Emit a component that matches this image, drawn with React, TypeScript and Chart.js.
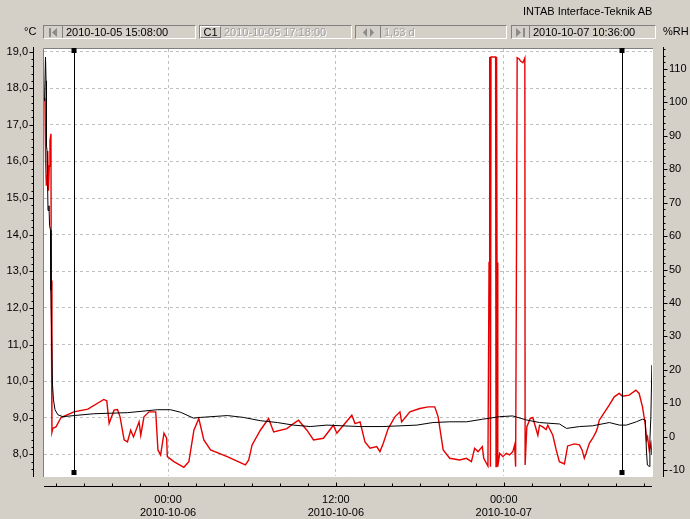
import React, { useEffect, useRef } from 'react';
import { Chart, registerables } from 'chart.js';

Chart.register(...registerables);

// Time axis: hours relative to 2010-10-06 00:00
const X_MIN = -8.867; // 2010-10-05 15:08:00
const X_MAX = 34.6; // 2010-10-07 10:36:00
const xTickHours = [0, 12, 24];
const xTickLabels = [
  ['00:00', '2010-10-06'],
  ['12:00', '2010-10-06'],
  ['00:00', '2010-10-07'],
];
const tempTicks = [8, 9, 10, 11, 12, 13, 14, 15, 16, 17, 18, 19];
const rhTicks = [-10, 0, 10, 20, 30, 40, 50, 60, 70, 80, 90, 100, 110];
const TEMP_MIN = 7.41;
const TEMP_MAX = 19.07;
const RH_MIN = -11.8;
const RH_MAX = 116;
const cursorHours = [-6.7, 32.42];

// Temperature (°C), black
const tempHours = [-8.83, -8.76, -8.72, -8.69, -8.65, -8.58, -8.51, -8.47, -8.4, -8.37, -8.32, -8.26, -8.19, -8.08, -7.87, -7.51, -6.73, -5.3, -2.88, -0.74, 0.18, 0.9, 1.82, 2.32, 4.25, 5.39, 6.6, 7.82, 8.96, 10.16, 11.36, 12.5, 13.72, 15.36, 16.58, 17.79, 18.94, 20.13, 21.34, 22.48, 23.71, 24.64, 25.63, 26.56, 27.99, 28.49, 29.42, 30.34, 31.55, 32.27, 32.77, 33.48, 33.91, 34.12, 34.2, 34.27, 34.41, 34.45, 34.52, 34.59];
const tempValues = [17.65, 18.85, 18.2, 16.43, 16.29, 14.66, 14.79, 14.25, 14.12, 12.48, 11.2, 9.9, 9.49, 9.22, 9.08, 9.03, 9.06, 9.11, 9.14, 9.22, 9.22, 9.15, 8.99, 9.01, 9.06, 9.01, 8.92, 8.87, 8.8, 8.76, 8.8, 8.78, 8.76, 8.76, 8.78, 8.8, 8.87, 8.89, 8.89, 8.96, 9.03, 9.05, 8.94, 8.87, 8.83, 8.71, 8.76, 8.78, 8.87, 8.8, 8.8, 8.89, 8.96, 8.94, 8.12, 7.71, 7.67, 8.4, 9.03, 10.44];

// Relative humidity (%RH), red
const rhHours = [-8.8, -8.75, -8.7, -8.65, -8.6, -8.55, -8.49, -8.44, -8.37, -8.35, -8.3, -8.23, -8.01, -7.65, -6.73, -5.73, -4.59, -4.38, -4.21, -3.86, -3.61, -3.43, -3.14, -2.9, -2.67, -2.47, -2.07, -1.95, -1.72, -1.36, -0.88, -0.72, -0.53, -0.29, -0.1, -0.05, 0.42, 1.13, 1.49, 1.85, 2.2, 2.56, 3.04, 4.23, 5.53, 5.77, 6.01, 6.6, 7.19, 7.55, 8.5, 8.97, 9.33, 9.93, 10.4, 11.11, 11.82, 12.07, 12.54, 13.14, 13.37, 13.73, 14.08, 14.44, 14.92, 15.15, 15.39, 15.74, 16.22, 16.58, 16.7, 17.29, 18.0, 18.6, 19.07, 19.31, 19.67, 20.14, 20.85, 21.33, 21.69, 21.92, 22.16, 22.47, 22.57, 22.87, 22.95, 22.98, 23.01, 23.05, 23.09, 23.42, 23.45, 23.49, 23.52, 23.56, 23.59, 23.71, 23.94, 24.18, 24.42, 24.65, 24.78, 24.85, 24.91, 24.94, 24.96, 25.11, 25.2, 25.37, 25.51, 25.53, 25.56, 25.65, 25.89, 26.08, 26.2, 26.44, 26.56, 26.79, 27.03, 27.15, 27.51, 27.75, 27.98, 28.34, 28.57, 29.05, 29.41, 29.6, 29.76, 29.89, 30.12, 30.36, 30.6, 30.71, 30.83, 31.07, 31.54, 31.9, 32.25, 32.49, 32.97, 33.45, 33.68, 33.92, 34.11, 34.21, 34.28, 34.4, 34.52, 34.59];
const rhValues = [101.3, 82.5, 75.1, 78.1, 85.5, 73.6, 81.0, 88.5, 90.6, 46.7, 1.3, 2.5, 2.9, 5.7, 7.4, 8.2, 11.1, 10.7, 3.9, 7.9, 8.1, 5.9, -1.0, -1.6, 1.9, -0.1, 4.4, 0.4, 5.9, 7.4, 7.4, -4.0, -5.5, 1.0, -0.5, -6.0, -7.5, -9.2, -7.5, 1.9, 5.4, -1.0, -4.0, -6.0, -8.5, -7.0, -2.5, 1.9, 5.4, 1.4, 2.4, 3.9, 4.9, 1.9, -1.0, -0.5, 3.4, 1.0, 3.4, 6.4, 3.9, 4.4, -1.6, -3.5, -3.0, -4.5, -2.0, 2.4, 5.9, 7.4, 4.4, 7.4, 8.4, 8.9, 8.9, 5.9, -4.0, -6.5, -7.0, -6.5, -7.5, -3.5, -4.5, -3.0, -6.5, -8.8, 52.1, 52.1, 113.6, -9.0, 113.6, 113.6, -9.0, 113.6, 52.1, 52.1, -9.0, -5.0, -6.0, -5.0, -5.5, -4.5, -2.5, -9.0, 53.3, 53.3, 113.4, 113.0, 112.4, 111.9, 113.3, -8.5, -8.5, 2.9, 5.4, 5.7, 3.9, 0.4, 3.4, 2.9, 2.1, 3.4, 0.4, -4.0, -7.5, -8.2, -2.8, -2.2, -2.5, -4.0, -6.5, -5.0, -2.0, -0.5, 1.4, 2.7, 4.9, 6.4, 9.4, 11.9, 12.9, 12.1, 12.4, 13.9, 12.9, 8.9, 3.9, -1.0, -0.1, -4.0, -2.0, -5.5];

const FONT = '"Liberation Sans", Arial, sans-serif';

const chromePlugin = {
  id: 'chrome',
  beforeDraw(chart: any) {
    const { ctx, chartArea: a } = chart;
    ctx.save();
    ctx.fillStyle = '#ffffff';
    ctx.fillRect(a.left, a.top, a.right - a.left, a.bottom - a.top);
    ctx.restore();
  },
  afterDatasetsDraw(chart: any) {
    const { ctx, chartArea: a, scales } = chart;
    const xs = scales.x;
    const yT = scales.yT;
    const yH = scales.yH;
    ctx.save();
    ctx.lineWidth = 1;
    // sunken frame
    ctx.strokeStyle = '#808080';
    ctx.beginPath();
    ctx.moveTo(a.left - 0.5, a.bottom + 1);
    ctx.lineTo(a.left - 0.5, a.top - 0.5);
    ctx.lineTo(a.right + 1, a.top - 0.5);
    ctx.stroke();
    ctx.strokeStyle = '#ffffff';
    ctx.beginPath();
    ctx.moveTo(a.right + 0.5, a.top);
    ctx.lineTo(a.right + 0.5, a.bottom + 0.5);
    ctx.lineTo(a.left, a.bottom + 0.5);
    ctx.stroke();

    // cursors
    ctx.strokeStyle = '#000';
    ctx.fillStyle = '#000';
    cursorHours.forEach((h) => {
      const px = Math.round(xs.getPixelForValue(h)) + 0.5;
      const t = a.top + 1;
      const b = a.bottom - 4;
      ctx.beginPath();
      ctx.moveTo(px, t);
      ctx.lineTo(px, b);
      ctx.stroke();
      ctx.fillRect(px - 3, t - 2, 5, 5);
      ctx.fillRect(px - 3, b - 2, 5, 5);
    });

    // left axis
    ctx.strokeStyle = '#000';
    const lx = 33.5;
    ctx.beginPath();
    ctx.moveTo(lx, a.top - 2);
    ctx.lineTo(lx, a.bottom + 1);
    ctx.stroke();
    for (let i = 38; i <= 95; i++) {
      const v = i / 5;
      const py = Math.round(yT.getPixelForValue(v)) + 0.5;
      const len = i % 5 === 0 ? 4 : 2;
      ctx.beginPath();
      ctx.moveTo(lx - len, py);
      ctx.lineTo(lx, py);
      ctx.stroke();
    }
    // right axis
    const rx = 663.5;
    ctx.beginPath();
    ctx.moveTo(rx, a.top - 2);
    ctx.lineTo(rx, a.bottom + 1);
    ctx.stroke();
    for (let v = -10; v <= 116; v += 2) {
      const py = Math.round(yH.getPixelForValue(v)) + 0.5;
      const len = v % 10 === 0 ? 4 : 2;
      ctx.beginPath();
      ctx.moveTo(rx, py);
      ctx.lineTo(rx + len, py);
      ctx.stroke();
    }
    // bottom axis
    const by = 486.5;
    ctx.beginPath();
    ctx.moveTo(a.left, by);
    ctx.lineTo(a.right, by);
    ctx.stroke();
    for (let h = -8; h <= 34; h += 2) {
      const px = Math.round(xs.getPixelForValue(h)) + 0.5;
      const len = h % 12 === 0 ? 4 : 3;
      ctx.beginPath();
      ctx.moveTo(px, by - len);
      ctx.lineTo(px, by);
      ctx.stroke();
    }
    ctx.restore();
  },
};

function Icon({ kind }: { kind: string }) {
  const c = '#8a8a8a';
  if (kind === 'first')
    return (
      <svg width="9" height="9">
        <rect x="0" y="0" width="2" height="9" fill={c} />
        <polygon points="8,0 3,4.5 8,9" fill={c} />
      </svg>
    );
  if (kind === 'both')
    return (
      <svg width="11" height="9">
        <polygon points="4,0 0,4.5 4,9" fill={c} />
        <polygon points="7,0 11,4.5 7,9" fill={c} />
      </svg>
    );
  return (
    <svg width="9" height="9">
      <polygon points="0,0 5,4.5 0,9" fill={c} />
      <rect x="7" y="0" width="2" height="9" fill={c} />
    </svg>
  );
}

function Field(props: { left: number; width: number; iconW: number; icon?: string; label?: string; text: string; dim?: boolean }) {
  const { left, width, iconW, icon, label, text, dim } = props;
  return (
    <div
      style={{
        position: 'absolute',
        left,
        top: 25,
        width,
        height: 14,
        boxSizing: 'border-box',
        borderStyle: 'solid',
        borderWidth: 1,
        borderColor: '#808080 #ffffff #ffffff #808080',
        font: `11px ${FONT}`,
        display: 'flex',
        alignItems: 'center',
      }}
    >
      <div
        style={{
          width: iconW,
          height: '100%',
          boxSizing: 'border-box',
          borderRight: '1px solid #808080',
          display: 'flex',
          alignItems: 'center',
          justifyContent: 'center',
          ...(label
            ? { borderTop: '1px solid #fff', borderLeft: '1px solid #fff', borderBottom: '1px solid #808080' }
            : {}),
        }}
      >
        {label ? <span style={{ color: '#000', lineHeight: '11px' }}>{label}</span> : <Icon kind={icon || 'first'} />}
      </div>
      <span
        style={{
          marginLeft: 3,
          color: dim ? '#a0a0a0' : '#000',
          textShadow: dim ? '1px 1px 0 #ffffff' : 'none',
          whiteSpace: 'nowrap',
          lineHeight: '12px',
        }}
      >
        {text}
      </span>
    </div>
  );
}

export default function App() {
  const ref = useRef<HTMLCanvasElement | null>(null);

  useEffect(() => {
    if (!ref.current) return;
    const chart = new Chart(ref.current, {
      type: 'line',
      data: {
        datasets: [
          {
            label: '°C',
            data: tempHours.map((h, i) => ({ x: h, y: tempValues[i] })),
            borderColor: '#000000',
            borderWidth: 1,
            pointRadius: 0,
            tension: 0,
            yAxisID: 'yT',
          },
          {
            label: '%RH',
            data: rhHours.map((h, i) => ({ x: h, y: rhValues[i] })),
            borderColor: '#e60000',
            borderWidth: 1.4,
            pointRadius: 0,
            tension: 0,
            yAxisID: 'yH',
          },
        ],
      },
      options: {
        animation: false,
        responsive: false,
        maintainAspectRatio: false,
        layout: { padding: { top: 49, left: 0, right: 0, bottom: 0 } },
        plugins: { legend: { display: false }, tooltip: { enabled: false } },
        scales: {
          x: {
            type: 'linear',
            min: X_MIN,
            max: X_MAX,
            afterBuildTicks: (s: any) => {
              s.ticks = xTickHours.map((v) => ({ value: v }));
            },
            afterFit: (s: any) => {
              s.height = 43;
            },
            ticks: {
              autoSkip: false,
              maxRotation: 0,
              padding: 17,
              color: '#000',
              font: { family: FONT, size: 11, lineHeight: 1.2 },
              callback: (v: any) => {
                const i = xTickHours.indexOf(Number(v));
                return i >= 0 ? xTickLabels[i] : '';
              },
            },
            grid: { color: '#c0c0c0', drawTicks: false, lineWidth: 1 },
            border: { display: false, dash: [3, 3] },
          },
          yT: {
            type: 'linear',
            position: 'left',
            min: TEMP_MIN,
            max: TEMP_MAX,
            afterBuildTicks: (s: any) => {
              s.ticks = tempTicks.map((v) => ({ value: v }));
            },
            afterFit: (s: any) => {
              s.width = 44;
            },
            ticks: {
              padding: 16,
              color: '#000',
              font: { family: FONT, size: 11 },
              callback: (v: any) => Number(v).toFixed(1).replace('.', ','),
            },
            grid: { color: '#c0c0c0', drawTicks: false, lineWidth: 1 },
            border: { display: false, dash: [3, 3] },
          },
          yH: {
            type: 'linear',
            position: 'right',
            min: RH_MIN,
            max: RH_MAX,
            afterBuildTicks: (s: any) => {
              s.ticks = rhTicks.map((v) => ({ value: v }));
            },
            afterFit: (s: any) => {
              s.width = 38;
            },
            ticks: {
              padding: 17,
              color: '#000',
              font: { family: FONT, size: 11 },
              callback: (v: any) => String(v),
            },
            grid: { drawOnChartArea: false, drawTicks: false },
            border: { display: false },
          },
        },
      },
      plugins: [chromePlugin],
    } as any);
    return () => chart.destroy();
  }, []);

  return (
    <div
      style={{
        position: 'fixed',
        left: 0,
        top: 0,
        width: 690,
        height: 519,
        background: '#d4d0c8',
        overflow: 'hidden',
        font: `11px ${FONT}`,
        color: '#000',
      }}
    >
      <canvas ref={ref} width={690} height={519} style={{ position: 'absolute', left: 0, top: 0, width: 690, height: 519 }} />
      <div style={{ position: 'absolute', left: 523, top: 5, whiteSpace: 'nowrap' }}>INTAB Interface-Teknik AB</div>
      <div style={{ position: 'absolute', left: 24, top: 25 }}>°C</div>
      <div style={{ position: 'absolute', left: 663, top: 25 }}>%RH</div>
      <Field left={43} width={153} iconW={19} icon="first" text="2010-10-05 15:08:00" />
      <Field left={199} width={153} iconW={21} label="C1" text="2010-10-05 17:18:00" dim />
      <Field left={355} width={152} iconW={25} icon="both" text="1,63 d" dim />
      <Field left={511} width={145} iconW={18} icon="last" text="2010-10-07 10:36:00" />
    </div>
  );
}
